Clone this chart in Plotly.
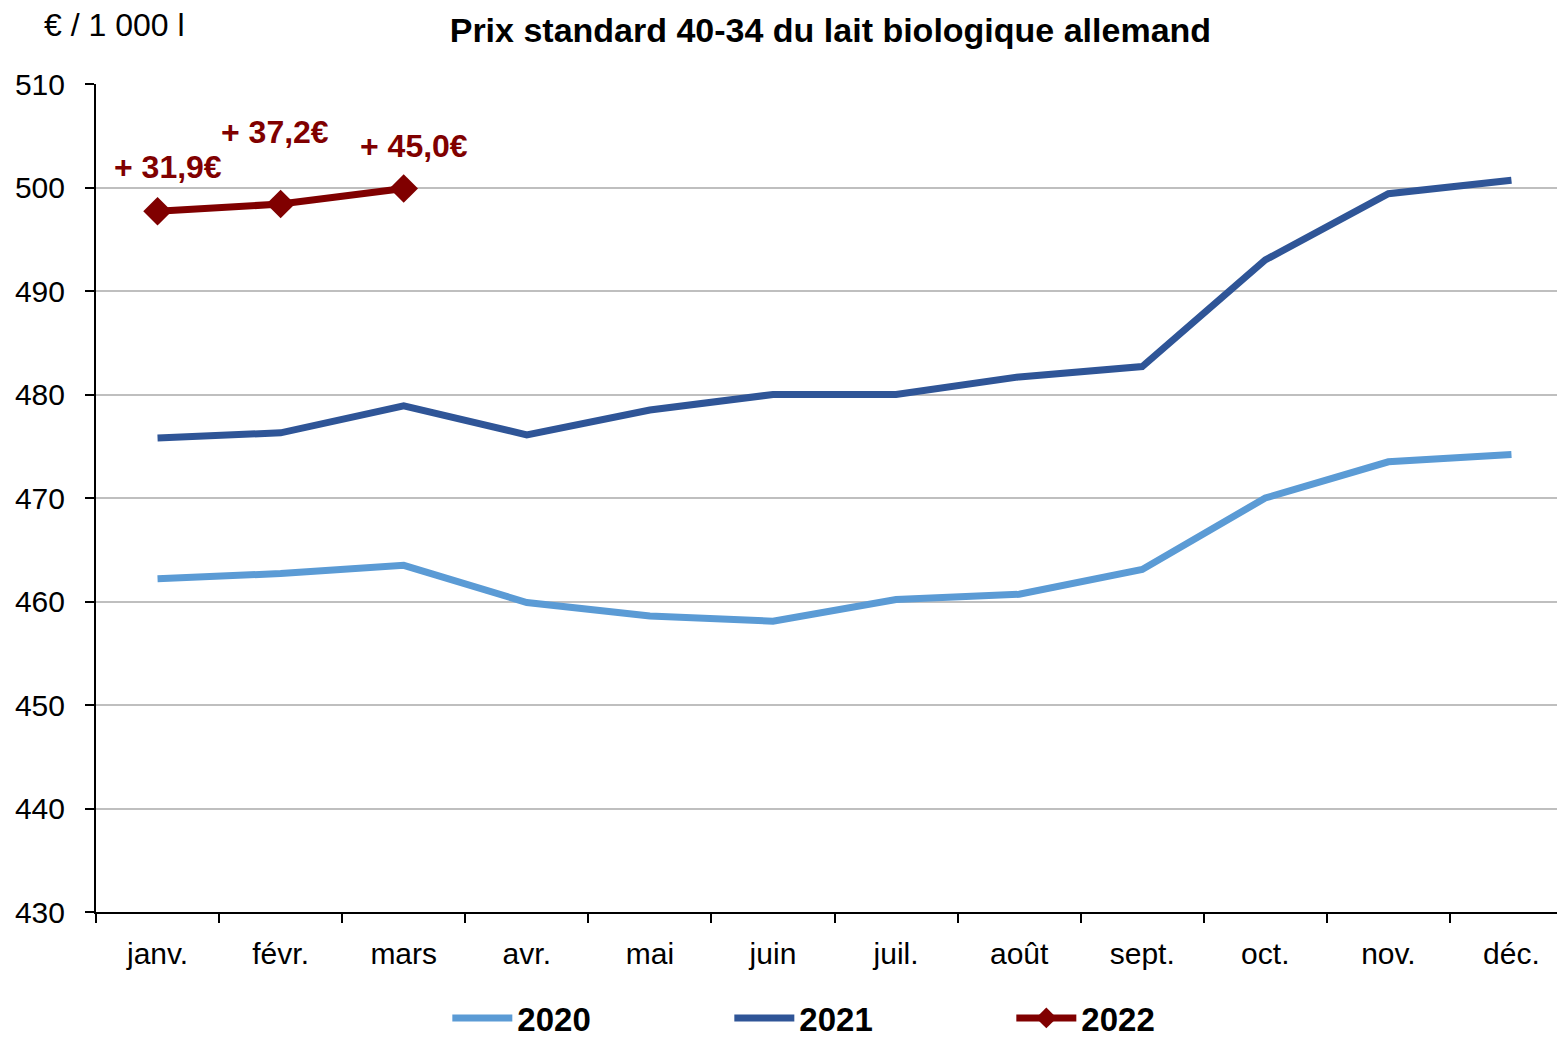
import plotly.graph_objects as go

months = ["janv.", "févr.", "mars", "avr.", "mai", "juin", "juil.", "août", "sept.", "oct.", "nov.", "déc."]
p2020 = [462.2, 462.7, 463.5, 459.9, 458.6, 458.1, 460.2, 460.7, 463.1, 470.0, 473.5, 474.2]
p2021 = [475.8, 476.3, 478.9, 476.1, 478.5, 480.0, 480.0, 481.7, 482.7, 493.0, 499.4, 500.7]
p2022 = [497.7, 498.4, 499.9]
labels2022 = ["+ 31,9€", "+ 37,2€", "+ 45,0€"]
label_offsets = [(10, 44), (-6, 72), (10, 43)]

FONT = "Liberation Sans, Arial, sans-serif"

fig = go.Figure()
fig.add_trace(go.Scatter(x=months, y=p2020, mode="lines", name="2020",
                         line=dict(color="#5B9BD5", width=7)))
fig.add_trace(go.Scatter(x=months, y=p2021, mode="lines", name="2021",
                         line=dict(color="#2F5597", width=7)))
fig.add_trace(go.Scatter(x=months[:3], y=p2022, mode="lines+markers", name="2022",
                         line=dict(color="#800000", width=7),
                         marker=dict(symbol="diamond", size=22, color="#800000")))

for m, v, t, (dx, dy) in zip(months[:3], p2022, labels2022, label_offsets):
    fig.add_annotation(x=m, y=v, text=f"<b>{t}</b>", showarrow=False,
                       xshift=dx, yshift=dy,
                       font=dict(family=FONT, size=32, color="#800000"))

fig.add_annotation(xref="paper", yref="paper", x=-0.037, y=1.071, xanchor="left", yanchor="middle",
                   text="€ / 1 000 l", showarrow=False,
                   font=dict(family=FONT, size=32, color="#000000"))

fig.update_layout(
    width=1558, height=1046,
    margin=dict(l=96, r=1, t=84, b=134),
    paper_bgcolor="white", plot_bgcolor="white",
    title=dict(text="<b>Prix standard 40-34 du lait biologique allemand</b>",
               x=0.533, xanchor="center", y=0.971, yanchor="middle",
               font=dict(family=FONT, size=34, color="#000000")),
    font=dict(family=FONT, size=30, color="#000000"),
    showlegend=True,
    legend=dict(orientation="h", x=0.53, xanchor="center",
                yref="container", y=-0.008, yanchor="bottom",
                font=dict(family=FONT, size=33, color="#000000", weight="bold"),
                entrywidth=207, entrywidthmode="pixels", itemwidth=60),
    xaxis=dict(type="category", range=[-0.5, 11.37], tickson="boundaries",
               ticks="outside", ticklen=9, tickwidth=2, tickcolor="#000000",
               showline=True, linecolor="#000000", linewidth=2,
               showgrid=False, tickfont=dict(family=FONT, size=30), ticklabelstandoff=14),
    yaxis=dict(range=[430, 510], dtick=10, ticks="outside", ticklen=9, tickwidth=2,
               tickcolor="#000000", showline=True, linecolor="#000000", linewidth=2,
               showgrid=True, gridcolor="#BFBFBF", gridwidth=2, zeroline=False,
               tickfont=dict(family=FONT, size=30), ticklabelstandoff=14),
)

fig.write_html("out.html", config={"displayModeBar": False},
               post_script="document.body.style.margin='0';document.body.style.overflow='hidden';document.documentElement.style.overflow='hidden';")
